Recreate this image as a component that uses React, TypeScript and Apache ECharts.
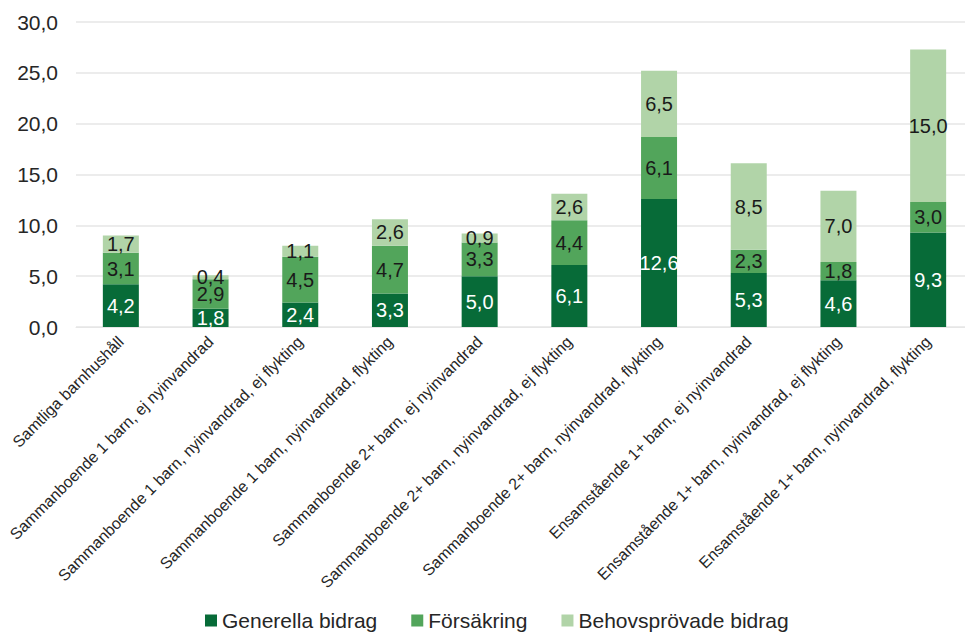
import React, { useEffect, useRef } from "react";
import * as echarts from "echarts";

const categories = [
  "Samtliga barnhushåll",
  "Sammanboende 1 barn, ej nyinvandrad",
  "Sammanboende 1 barn, nyinvandrad, ej flykting",
  "Sammanboende 1 barn, nyinvandrad, flykting",
  "Sammanboende 2+ barn, ej nyinvandrad",
  "Sammanboende 2+ barn, nyinvandrad, ej flykting",
  "Sammanboende 2+ barn, nyinvandrad, flykting",
  "Ensamstående 1+ barn, ej nyinvandrad",
  "Ensamstående 1+ barn, nyinvandrad, ej flykting",
  "Ensamstående 1+ barn, nyinvandrad, flykting",
];
const generella = [4.2, 1.8, 2.4, 3.3, 5.0, 6.1, 12.6, 5.3, 4.6, 9.3];
const forsakring = [3.1, 2.9, 4.5, 4.7, 3.3, 4.4, 6.1, 2.3, 1.8, 3.0];
const behovsprovade = [1.7, 0.4, 1.1, 2.6, 0.9, 2.6, 6.5, 8.5, 7.0, 15.0];
const seriesNames = ["Generella bidrag", "Försäkring", "Behovsprövade bidrag"];
const seriesColors = ["#076b38", "#52a55b", "#b1d4a8"];
const labelColors = ["#ffffff", "#1a1a1a", "#1a1a1a"];

const FONT = "Liberation Sans, Arial, sans-serif";
const fmt = (v: number) => v.toFixed(1).replace(".", ",");

export default function App() {
  const ref = useRef<HTMLDivElement>(null);
  useEffect(() => {
    if (!ref.current) return;
    const chart = echarts.init(ref.current, null, { renderer: "svg" });
    const data = [generella, forsakring, behovsprovade];
    chart.setOption({
      animation: false,
      textStyle: { fontFamily: FONT },
      grid: { left: 76, top: 22, right: 0, height: 305 },
      legend: {
        bottom: -3,
        left: 200,
        itemWidth: 12,
        itemHeight: 12,
        itemGap: 34,
        icon: "rect",
        textStyle: { fontSize: 21, color: "#262626", fontFamily: FONT },
        data: seriesNames,
      },
      xAxis: {
        type: "category",
        data: categories,
        axisTick: { show: false },
        axisLine: { lineStyle: { color: "#e6e6e6" } },
        axisLabel: {
          rotate: 45,
          interval: 0,
          fontSize: 16,
          color: "#262626",
          margin: 12,
        },
      },
      yAxis: {
        type: "value",
        min: 0,
        max: 30,
        interval: 5,
        axisLine: { show: false },
        axisTick: { show: false },
        splitLine: { lineStyle: { color: "#e6e6e6", width: 1.5 } },
        axisLabel: {
          formatter: (v: number) => fmt(v),
          fontSize: 21,
          color: "#262626",
          margin: 18,
        },
      },
      series: seriesNames.map((name, i) => ({
        name,
        type: "bar",
        stack: "total",
        barWidth: 36,
        itemStyle: { color: seriesColors[i] },
        label: {
          show: true,
          position: "inside",
          formatter: (p: any) => fmt(p.value),
          fontSize: 20,
          color: labelColors[i],
          fontFamily: FONT,
        },
        data: data[i],
      })),
    });
    return () => chart.dispose();
  }, []);
  return (
    <div style={{ width: 965, height: 633, position: "absolute", left: 0, top: 0, overflow: "hidden" }}>
      <div ref={ref} style={{ width: 973, height: 633 }} />
    </div>
  );
}
